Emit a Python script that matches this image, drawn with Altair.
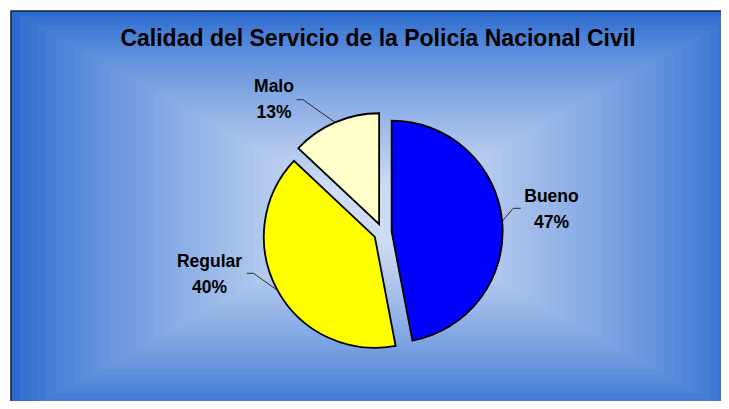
import math
import numpy as np
import pandas as pd
import altair as alt

# ---- data ----
categories = ["Bueno", "Regular", "Malo"]
values = [47, 40, 13]
title_text = "Calidad del Servicio de la Policía Nacional Civil"

# ---- styles / layout ----
slice_colors = ["#0000FF", "#FFFF00", "#FFFFCC"]
W, H = 713, 393
X0, Y0 = 8, 8                      # page margin -> chart origin in page px
PIE_C = (382.7, 232.5)             # pie centre (page px)
RADIUS = 111
EXPLODE = 9
LABEL_LAYOUT = {                   # label centre x, first baseline y, elbow x/y, end x
    "Bueno":   (551.5, 201.7, 513.3, 208.3, 520.7),
    "Regular": (209.5, 266.7, 253.3, 273.3, 246.7),
    "Malo":    (274.0, 92.3, 303.0, 99.7, 296.7),
}
EDGE = np.array([0x2a, 0x6a, 0xd0])
CENTER = np.array([0xd2, 0xde, 0xf4])
FRAME = (11, 11, 745, 419)

xs = alt.Scale(domain=[X0, X0 + W], nice=False, zero=False)
ys = alt.Scale(domain=[Y0, Y0 + H], nice=False, zero=False, reverse=True)

# ---- background: stepped rectangular gradient ----
fx0, fy0, fx1, fy1 = FRAME
cxb, cyb = (fx0 + fx1) / 2, (fy0 + fy1) / 2
hw, hh = (fx1 - fx0) / 2, (fy1 - fy0) / 2
rows = []
steps = 36
for i in range(steps):
    t = i / steps
    s = 1 - t * 0.88
    k = t ** 0.8
    col = EDGE + (CENTER - EDGE) * k
    rows.append(dict(
        x=max(cxb - hw * s, X0), x2=min(cxb + hw * s, X0 + W),
        y=max(cyb - hh * s, Y0), y2=min(cyb + hh * s, Y0 + H),
        c="#%02x%02x%02x" % tuple(int(round(v)) for v in col), o=i))
bg = pd.DataFrame(rows)
background = alt.Chart(bg).mark_rect(strokeWidth=0).encode(
    x=alt.X("x:Q", scale=xs, axis=None), x2="x2:Q",
    y=alt.Y("y:Q", scale=ys, axis=None), y2="y2:Q",
    color=alt.Color("c:N", scale=None),
)
frame = alt.Chart(pd.DataFrame([dict(x=fx0, x2=X0 + W + 5, y=fy0, y2=Y0 + H + 5)])).mark_rect(
    fill=None, stroke="#1b2638", strokeWidth=1.6, clip=True
).encode(
    x=alt.X("x:Q", scale=xs, axis=None), x2="x2:Q",
    y=alt.Y("y:Q", scale=ys, axis=None), y2="y2:Q",
)

# ---- pie ----
vals = np.array(values, dtype=float)
ends = np.cumsum(vals)
starts = ends - vals
mids = (starts + ends) / 2 / 100 * 2 * math.pi
pie = pd.DataFrame({
    "cat": categories, "value": values, "start": starts, "end": ends,
    "cx": PIE_C[0] + EXPLODE * np.sin(mids),
    "cy": PIE_C[1] - EXPLODE * np.cos(mids),
})
pie["pct"] = [f"{v}%" for v in values]
pie["label"] = pie["cat"] + "\n" + pie["pct"]

arcs = alt.Chart(pie).mark_arc(radius=RADIUS, stroke="black", strokeWidth=1.8).encode(
    x=alt.X("cx:Q", scale=xs, axis=None),
    y=alt.Y("cy:Q", scale=ys, axis=None),
    theta=alt.Theta("start:Q", scale=alt.Scale(domain=[0, 100], range=[0, 2 * math.pi]), stack=None),
    theta2="end:Q",
    color=alt.Color("cat:N", scale=alt.Scale(domain=categories, range=slice_colors), legend=None),
)

# ---- labels and leader lines ----
lab_rows, lead_rows = [], []
for _, r in pie.iterrows():
    lx, ly, ex, ey, endx = LABEL_LAYOUT[r["cat"]]
    lab_rows.append(dict(cat=r["cat"], label=r["label"], x=lx, y=ly))
    m = (r["start"] + r["end"]) / 2 / 100 * 2 * math.pi
    ax = r["cx"] + RADIUS * math.sin(m)
    ay = r["cy"] - RADIUS * math.cos(m)
    for j, (px, py) in enumerate([(ax, ay), (ex, ey), (endx, ey)]):
        lead_rows.append(dict(cat=r["cat"], seq=j, x=px, y=py))

leaders = alt.Chart(pd.DataFrame(lead_rows)).mark_line(color="#1a1a1a", strokeWidth=0.9).encode(
    x=alt.X("x:Q", scale=xs, axis=None),
    y=alt.Y("y:Q", scale=ys, axis=None),
    detail="cat:N", order="seq:Q",
)
labels = alt.Chart(pd.DataFrame(lab_rows)).mark_text(
    font="Liberation Sans", fontWeight="bold", fontSize=17.5, lineHeight=26,
    align="center", baseline="alphabetic", lineBreak="\n", color="black",
).encode(
    x=alt.X("x:Q", scale=xs, axis=None),
    y=alt.Y("y:Q", scale=ys, axis=None),
    text="label:N",
)

title = alt.Chart(pd.DataFrame([dict(t=title_text, x=378, y=46)])).mark_text(
    font="Liberation Sans", fontWeight="bold", fontSize=23,
    align="center", baseline="alphabetic", color="black",
).encode(
    x=alt.X("x:Q", scale=xs, axis=None),
    y=alt.Y("y:Q", scale=ys, axis=None),
    text="t:N",
)

chart = alt.layer(background, frame, leaders, arcs, labels, title).properties(
    width=W, height=H, autosize=alt.AutoSizeParams(type="none"), padding=0,
    background="white",
).configure_view(stroke=None)

chart.save("out.html", embed_options={"renderer": "svg", "actions": False})
